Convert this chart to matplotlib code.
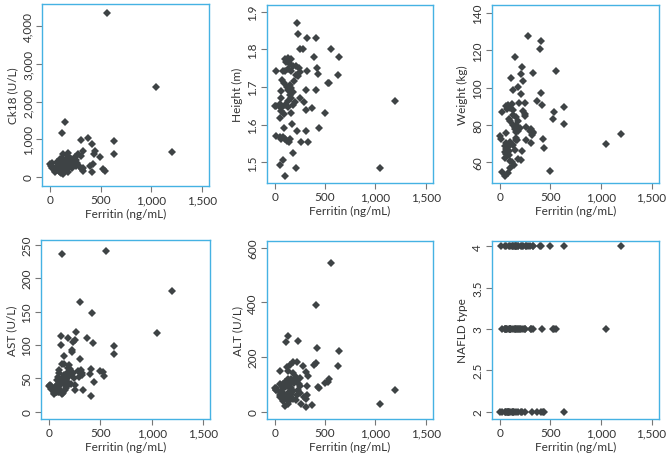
import matplotlib
matplotlib.use("Agg")
import matplotlib.pyplot as plt
from matplotlib.ticker import FuncFormatter

plt.rcParams['font.family'] = ['Lato', 'DejaVu Sans']

# Dados por paciente (ferritina comum a todos os paineis)
ferritin = [560, 1050, 1200, 635, 630, 540, 525, 495, 440, 420, 410, 410, 395, 371, 430,
            220, 230, 325, 250, 280, 17, 325, 306, 66, 253, 295, 315, 174, 89, 220, 306,
            263, 328, 181, 83, 49, 214, 105, 0,
            98, 132, 164, 115, 148, 181, 213, 246, 132, 98, 164, 207, 255, 85,
            76, 89, 148, 164, 132, 66, 181,
            148, 164, 132, 98, 10, 49, 181, 132,
            66, 89, 49, 164,
            17, 49, 82, 98, 121, 141, 66, 154,
            190, 230, 120, 60, 200]
height = [1.800, 1.484, 1.662, 1.780, 1.733, 1.712, 1.712, 1.632, 1.591, 1.752, 1.692, 1.831, 1.780, 1.644, 1.735,
          1.870, 1.840, 1.831, 1.800, 1.800, 1.742, 1.742, 1.692, 1.671, 1.672, 1.661, 1.640, 1.602, 1.591, 1.582, 1.582,
          1.555, 1.555, 1.525, 1.507, 1.494, 1.484, 1.463, 1.650,
          1.774, 1.777, 1.775, 1.766, 1.761, 1.757, 1.757, 1.752, 1.748, 1.743, 1.743, 1.733, 1.740, 1.742,
          1.720, 1.711, 1.706, 1.697, 1.693, 1.690, 1.688,
          1.680, 1.671, 1.662, 1.653, 1.651, 1.655, 1.653, 1.648,
          1.637, 1.628, 1.619, 1.631,
          1.571, 1.568, 1.566, 1.562, 1.557, 1.553, 1.562, 1.562,
          1.715, 1.730, 1.700, 1.645, 1.660]
ck18 = [4350, 2380, 660, 962, 600, 167, 212, 520, 700, 345, 124, 875, 300, 1025, 610,
        420, 300, 680, 520, 610, 380, 150, 990, 220, 440, 270, 200, 330, 160, 280, 560,
        360, 240, 140, 300, 190, 250, 110, 350,
        480, 600, 250, 1166, 1466, 560, 390, 310, 420, 330, 200, 470, 290, 260,
        380, 180, 420, 330, 270, 230, 500,
        350, 240, 410, 150, 280, 210, 640, 90,
        300, 180, 120, 360,
        250, 170, 290, 130, 320, 230, 400, 190,
        450, 280, 500, 200, 380]
weight = [108.8, 70.0, 75.0, 89.5, 80.3, 86.8, 83.2, 55.5, 67.7, 90.7, 97.1, 125.0, 120.7, 92.7, 72.5,
          110.9, 103.7, 107.9, 91.5, 127.5, 87.0, 75.5, 78.0, 90.0, 86.0, 77.0, 74.5, 72.0, 66.0, 66.0, 70.5,
          72.0, 76.0, 61.5, 54.0, 52.8, 61.0, 57.0, 74.0,
          89.0, 98.7, 84.0, 105.0, 116.6, 100.5, 96.6, 85.0, 88.0, 82.0, 80.0, 107.3, 79.0, 90.5,
          88.5, 83.0, 79.0, 76.0, 85.5, 75.5, 82.0,
          78.0, 73.0, 80.0, 71.0, 72.5, 68.5, 77.0, 69.0,
          67.0, 64.0, 65.5, 72.0,
          54.6, 62.5, 68.0, 60.5, 60.0, 58.7, 64.5, 66.5,
          92.0, 87.5, 91.0, 70.5, 78.5]
ast = [241, 118, 180, 98, 86, 54, 60, 61, 44, 148, 23, 64, 56, 110, 103,
       92, 105, 58, 108, 61, 38, 55, 79, 30, 33, 52, 62, 45, 36, 90, 164,
       120, 33, 40, 35, 28, 42, 32, 38,
       62, 71, 48, 113, 83, 110, 57, 50, 236, 58, 44, 64, 40, 52,
       48, 42, 72, 38, 45, 30, 60,
       55, 36, 49, 33, 40, 32, 52, 26,
       35, 29, 31, 47,
       34, 27, 36, 30, 42, 28, 39, 33,
       66, 58, 100, 34, 70]
alt = [545, 27, 80, 221, 166, 118, 110, 104, 86, 232, 178, 392, 172, 25, 92,
       182, 260, 95, 125, 168, 88, 60, 144, 70, 95, 55, 18, 75, 60, 62, 45,
       30, 132, 48, 38, 55, 42, 22, 88,
       110, 276, 118, 254, 171, 183, 128, 100, 150, 90, 80, 112, 70, 100,
       95, 65, 100, 85, 120, 60, 75,
       90, 50, 70, 55, 80, 100, 140, 30,
       75, 45, 150, 65,
       78, 60, 85, 50, 95, 40, 70, 58,
       105, 80, 165, 72, 115]
nafld = [3, 3, 4, 4, 2, 3, 3, 4, 2, 3, 2, 4, 4, 2, 2,
         4, 3, 4, 3, 4, 2, 4, 3, 2, 2, 4, 2, 3, 2, 2, 3,
         4, 3, 2, 2, 3, 2, 2, 2,
         4, 3, 4, 3, 4, 3, 4, 3, 4, 3, 4, 3, 4, 2,
         3, 4, 3, 4, 2, 3, 4,
         3, 2, 4, 3, 4, 3, 4, 2,
         4, 3, 2, 3,
         3, 4, 2, 3, 4, 2, 3, 4,
         3, 4, 2, 2, 3]

paineis = [
    (ck18, "Ck18 (U/L)", [0, 1000, 2000, 3000, 4000], (-238, 4583), [42, 209, 5, 187]),
    (height, "Height (m)", [1.5, 1.6, 1.7, 1.8, 1.9], (1.445, 1.919), [266.7, 432.7, 5.7, 184]),
    (weight, "Weight (kg)", [60, 80, 100, 120, 140], (48.9, 144.4), [491.7, 658.7, 5.7, 184]),
    (ast, "AST (U/L)", [0, 50, 100, 150, 200, 250], (-10.9, 256.6), [40.7, 210.3, 241.3, 420]),
    (alt, "ALT (U/L)", [0, 200, 400, 600], (-26.7, 624.5), [266.7, 432.7, 242, 420]),
    (nafld, "NAFLD type", [2, 2.5, 3, 3.5, 4], (1.91, 4.064), [491.7, 658.7, 242, 420]),
]

W, H = 670, 460
fig = plt.figure(figsize=(6.7, 4.6), dpi=100)
azul = "#45b2e3"
cinza = "#3e4345"

def fmt(v, pos):
    if float(v).is_integer():
        return "{:,}".format(int(v))
    return "{:g}".format(v)

for valores, rotulo, yticks, ylim, (x0, x1, y0, y1) in paineis:
    ax = fig.add_axes([x0 / W, 1 - y1 / H, (x1 - x0) / W, (y1 - y0) / H])
    ax.plot(ferritin, valores, "D", color=cinza, markersize=3.7, markeredgewidth=0)
    ax.set_xlim(-80, 1570)
    ax.set_ylim(*ylim)
    ax.set_xticks([0, 500, 1000, 1500])
    ax.set_yticks(yticks)
    ax.xaxis.set_major_formatter(FuncFormatter(fmt))
    ax.yaxis.set_major_formatter(FuncFormatter(fmt))
    for s in ax.spines.values():
        s.set_color(azul)
        s.set_linewidth(1.0)
    ax.tick_params(direction="out", length=4, width=0.8, color="#777777",
                   labelsize=8.5, labelcolor="#333333", pad=2)
    for lab in ax.get_yticklabels():
        lab.set_rotation(90)
        lab.set_va("center")
    ax.set_xlabel("Ferritin (ng/mL)", fontsize=8.5, color="#333333", labelpad=2)
    ax.set_ylabel(rotulo, fontsize=8.5, color="#333333", labelpad=3)

fig.savefig("out.png", dpi=100)
